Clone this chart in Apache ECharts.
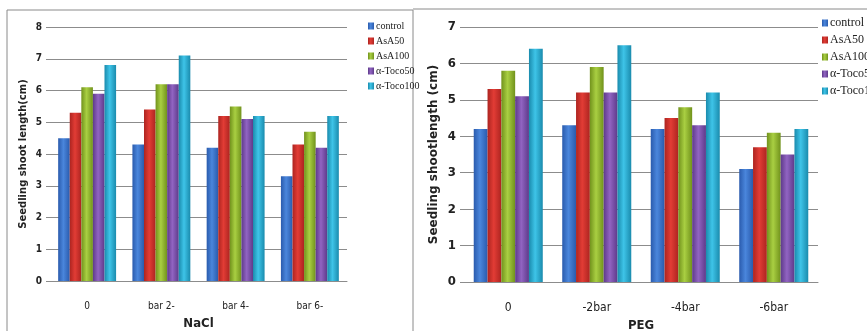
<!DOCTYPE html>
<html>
<head>
<meta charset="utf-8">
<script src="https://cdn.jsdelivr.net/npm/echarts@6/dist/echarts.min.js"></script>
<style>
html,body{margin:0;padding:0;background:#fff;}
#show{width:867px;height:331px;}
</style>
</head>
<body>
<div id="show"></div>
<script>
var seriesNames = ['control', 'AsA50', 'AsA100', 'α-Toco50', 'α-Toco100'];
var naclCats = ['0', 'bar 2-', 'bar 4-', 'bar 6-'];
var pegCats = ['0', '-2bar', '-4bar', '-6bar'];
// NaCl panel, one array per treatment
var naclControl = [4.5, 4.3, 4.2, 3.3];
var naclAsA50 = [5.3, 5.4, 5.2, 4.3];
var naclAsA100 = [6.1, 6.2, 5.5, 4.7];
var naclToco50 = [5.9, 6.2, 5.1, 4.2];
var naclToco100 = [6.8, 7.1, 5.2, 5.2];
// PEG panel
var pegControl = [4.2, 4.3, 4.2, 3.1];
var pegAsA50 = [5.3, 5.2, 4.5, 3.7];
var pegAsA100 = [5.8, 5.9, 4.8, 4.1];
var pegToco50 = [5.1, 5.2, 4.3, 3.5];
var pegToco100 = [6.4, 6.5, 5.2, 4.2];
var naclTicks = [0, 1, 2, 3, 4, 5, 6, 7, 8];
var pegTicks = [0, 1, 2, 3, 4, 5, 6, 7];

var myChart = echarts.init(document.getElementById('show'));
var narrow = 'DejaVu Sans Condensed, Liberation Sans, sans-serif';

// edge / centre colour for the excel-like shading
var shades = [
    ['#2a5bad', '#4a86dc'],
    ['#ad2420', '#e23c35'],
    ['#71921c', '#a9cf42'],
    ['#5e3a8a', '#9164c2'],
    ['#1a8bad', '#3ec4e8']
];
function fillOf(i) {
    return new echarts.graphic.LinearGradient(0, 0, 1, 0, [
        {offset: 0, color: shades[i][0]},
        {offset: 0.45, color: shades[i][1]},
        {offset: 1, color: shades[i][0]}
    ]);
}

var naclData = [naclControl, naclAsA50, naclAsA100, naclToco50, naclToco100];
var pegData = [pegControl, pegAsA50, pegAsA100, pegToco50, pegToco100];

var series = [];
for (var i = 0; i < 5; i++) {
    series.push({
        name: seriesNames[i], type: 'bar', xAxisIndex: 0, yAxisIndex: 0,
        data: naclData[i], barGap: '0%', barCategoryGap: '22%',
        itemStyle: {color: fillOf(i)}, color: shades[i][1]
    });
}
for (var i = 0; i < 5; i++) {
    series.push({
        name: seriesNames[i], type: 'bar', xAxisIndex: 1, yAxisIndex: 1,
        data: pegData[i], barGap: '0%', barCategoryGap: '22%',
        itemStyle: {color: fillOf(i)}, color: shades[i][1]
    });
}

var gridLine = {show: true, lineStyle: {color: '#8c8c8c', width: 1}};

option = {
    animation: false,
    backgroundColor: '#fff',
    graphic: [
        {type: 'rect', shape: {x: 7, y: 10, width: 406, height: 330}, style: {fill: 'none', stroke: '#8a8a8a', lineWidth: 1}},
        {type: 'line', shape: {x1: 413, y1: 9, x2: 867, y2: 9}, style: {stroke: '#8a8a8a', lineWidth: 1}}
    ],
    legend: [
        {
            data: seriesNames, orient: 'vertical', left: 363, top: 16, itemGap: 5,
            itemWidth: 6, itemHeight: 7, icon: 'rect',
            textStyle: {fontFamily: 'Liberation Serif', fontSize: 10, color: '#222', padding: [0, 0, 0, -3]}
        },
        {
            data: seriesNames, orient: 'vertical', left: 817, top: 12, itemGap: 5,
            itemWidth: 6, itemHeight: 7, icon: 'rect',
            textStyle: {fontFamily: 'Liberation Serif', fontSize: 12, color: '#222', padding: [0, 0, 0, -3]}
        }
    ],
    grid: [
        {left: 50, top: 27, width: 297, height: 254, outerBoundsMode: 'none', containLabel: false},
        {left: 464, top: 27, width: 354, height: 255, outerBoundsMode: 'none', containLabel: false}
    ],
    xAxis: [
        {
            type: 'category', gridIndex: 0, data: naclCats,
            name: 'NaCl', nameLocation: 'middle', nameGap: 36,
            nameTextStyle: {fontFamily: narrow, fontSize: 13, fontWeight: 'bold', color: '#222'},
            axisLine: {lineStyle: {color: '#8c8c8c'}}, axisTick: {show: false},
            axisLabel: {margin: 20, fontFamily: narrow, fontSize: 10, color: '#222'}
        },
        {
            type: 'category', gridIndex: 1, data: pegCats,
            name: 'PEG', nameLocation: 'middle', nameGap: 36,
            nameTextStyle: {fontFamily: narrow, fontSize: 13, fontWeight: 'bold', color: '#222'},
            axisLine: {lineStyle: {color: '#8c8c8c'}}, axisTick: {show: false},
            axisLabel: {margin: 20, fontFamily: narrow, fontSize: 12, color: '#222'}
        }
    ],
    yAxis: [
        {
            type: 'value', gridIndex: 0, min: naclTicks[0], max: naclTicks[naclTicks.length - 1], interval: 1,
            name: 'Seedling shoot length(cm)', nameLocation: 'middle', nameGap: 22,
            nameTextStyle: {fontFamily: 'DejaVu Sans', fontSize: 10, fontWeight: 'bold', color: '#222'},
            axisLine: {show: false}, axisTick: {show: true, length: 4, lineStyle: {color: '#8c8c8c'}},
            splitLine: gridLine,
            axisLabel: {margin: 8, fontFamily: narrow, fontSize: 10, fontWeight: 'bold', color: '#222'}
        },
        {
            type: 'value', gridIndex: 1, min: pegTicks[0], max: pegTicks[pegTicks.length - 1], interval: 1,
            name: 'Seedling shootlength (cm)', nameLocation: 'middle', nameGap: 24,
            nameTextStyle: {fontFamily: 'DejaVu Sans', fontSize: 12, fontWeight: 'bold', color: '#222'},
            axisLine: {show: false}, axisTick: {show: true, length: 4, lineStyle: {color: '#8c8c8c'}},
            splitLine: gridLine,
            axisLabel: {margin: 8, fontFamily: narrow, fontSize: 13, fontWeight: 'bold', color: '#222'}
        }
    ],
    series: series
};
myChart.setOption(option);
</script>
</body>
</html>
